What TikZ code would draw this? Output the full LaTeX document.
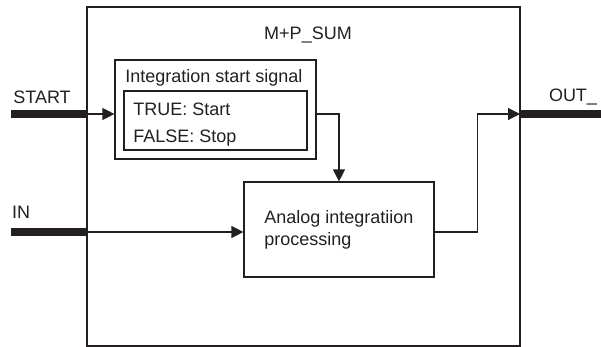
\documentclass[tikz,border=0pt]{standalone}
\usepackage{fontspec}
\setmainfont{Liberation Sans}
\usetikzlibrary{arrows.meta, positioning}
\definecolor{inkgray}{RGB}{35, 31, 32}

\begin{document}
\begin{tikzpicture}[x=0.025cm, y=-0.025cm,
    blk/.style={draw=inkgray, line width=0.8pt, inner sep=0pt},
    lbl/.style={inner sep=0pt, text=inkgray, font=\fontsize{12.8pt}{15.6pt}\selectfont},
    sigline/.style={draw=inkgray, line width=0.8pt, -{Triangle[length=8.5pt, width=8.5pt]}},
    bus/.style={draw=inkgray, line width=5.6pt}]
  \useasboundingbox (0,0) rectangle (601,347);

  % function block frame
  \node[blk, minimum width=10.825cm, minimum height=8.475cm] (fb) at (303.5,176.5) {};
  \node[lbl] (fbname) at (308,35) {M+P\_SUM};

  % start signal box
  \node[blk, minimum width=5.025cm, minimum height=2.475cm] (sig) at (215.5,109.5) {};
  \node[lbl, anchor=west] (sigtitle) at (125,78) {Integration start signal};
  \node[blk, minimum width=4.575cm, minimum height=1.475cm] (sigval) at (215.5,120.5) {};
  \node[lbl, anchor=west, align=left, font=\fontsize{12.8pt}{19.2pt}\selectfont] (sigtext) at (133,125)
    {TRUE: Start\\FALSE: Stop};

  % integration block
  \node[blk, lbl, minimum width=4.75cm, minimum height=2.375cm, align=left] (proc) at (339,229.5)
    {Analog integratiion\\processing};

  % pins
  \coordinate (startpin) at (87,114);
  \coordinate (startend) at (11,114);
  \coordinate (inpin) at (87,232);
  \coordinate (inend) at (11,232);
  \coordinate (outpin) at (520,114);
  \coordinate (outend) at (601,114);

  \draw[bus] (startend) -- (startpin);
  \draw[bus] (inend) -- (inpin);
  \draw[bus] (outpin) -- (outend);

  \node[lbl] (startlbl) at (42,97) {START};
  \node[lbl] (inlbl) at (21,212) {IN};
  \node[lbl] (outlbl) at (573,97) {OUT\_};

  % signal flow
  \draw[sigline] (startpin) -- (startpin -| sig.west);
  \draw[sigline] (sig.east |- startpin) -| (proc.north);
  \draw[sigline] (inpin) -- (inpin -| proc.west);
  \draw[sigline] (proc.east |- inpin) -- ++(43,0) |- (outpin);
\end{tikzpicture}
\end{document}
